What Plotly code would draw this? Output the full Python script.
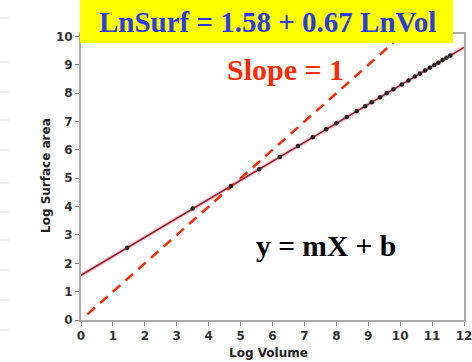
import plotly.graph_objects as go

# Data
log_volume = [1.45, 3.5, 4.7, 5.58, 6.23, 6.8, 7.26, 7.68, 8.0, 8.33, 8.64, 8.9, 9.11,
              9.37, 9.58, 9.79, 10.05, 10.26, 10.46, 10.62, 10.78, 10.93, 11.07, 11.2,
              11.33, 11.45, 11.57]
log_surface = [2.55, 3.93, 4.73, 5.32, 5.75, 6.14, 6.45, 6.73, 6.94, 7.16, 7.37, 7.54, 7.68,
               7.86, 8.0, 8.14, 8.31, 8.45, 8.59, 8.70, 8.80, 8.90, 9.0, 9.08,
               9.17, 9.25, 9.33]
fit_x = [0, 12]
fit_y = [1.58, 9.62]
slope1_x = [0.2, 10.1]
slope1_y = [0.2, 10.1]
x_ticks = list(range(0, 13))
y_ticks = list(range(0, 11))

W, H = 472, 362
L, R, T, B = 81, 8, 34, 42
pw, ph = W - L - R, H - T - B

def px(x):
    return (x - L) / pw

def py(y):
    return (H - B - y) / ph

fig = go.Figure()
fig.add_trace(go.Scatter(x=fit_x, y=fit_y, mode="lines",
                         line=dict(color="rgba(235,170,180,0.6)", width=4), hoverinfo="skip"))
fig.add_trace(go.Scatter(x=fit_x, y=fit_y, mode="lines",
                         line=dict(color="rgb(150,35,55)", width=1.6), hoverinfo="skip"))
fig.add_trace(go.Scatter(x=slope1_x, y=slope1_y, mode="lines",
                         line=dict(color="#ff2a00", width=2.5, dash="10px,7px")))
fig.add_trace(go.Scatter(x=log_volume, y=log_surface, mode="markers",
                         marker=dict(color="#222", size=4.5)))

axis_common = dict(showgrid=False, zeroline=False, showline=True, linecolor="#aaaaaa",
                   linewidth=2, mirror=True, ticks="outside", ticklen=4, tickcolor="#888",
                   automargin=False, ticklabeloverflow="allow",
                   tickfont=dict(family="DejaVu Sans", size=12, color="#333", weight="bold"))
fig.update_xaxes(range=[0, 12], tickvals=x_ticks, **axis_common)
fig.update_yaxes(range=[0, 10.09], tickvals=y_ticks, **axis_common)

fig.add_shape(type="rect", xref="paper", yref="paper", x0=px(80), x1=px(453),
              y0=py(43), y1=py(-2), fillcolor="#ffff00", line=dict(width=0), layer="above")

# faint slide-background ticks at the left edge
for yy in [18, 62, 92, 120, 150, 183, 212, 240, 270, 300, 330]:
    fig.add_shape(type="line", xref="paper", yref="paper", x0=px(0), x1=px(9),
                  y0=py(yy), y1=py(yy), line=dict(color="#dddddd", width=1), layer="below")

serif = "Liberation Serif"

def note(x, y, text, font, angle=0):
    fig.add_annotation(xref="paper", yref="paper", x=px(x), y=py(y), text=text,
                       showarrow=False, xanchor="center", yanchor="middle",
                       textangle=angle, font=font)

note(267, 22, "<b>LnSurf = 1.58 + 0.67 LnVol</b>", dict(family=serif, size=29, color="#2a3ce6"))
note(285, 69, "<b>Slope = 1</b>", dict(family=serif, size=30, color="#ff2a00"))
note(326, 246, "<b>y = mX + b</b>", dict(family=serif, size=29.5, color="#000"))
note(268, 353, "<b>Log Volume</b>", dict(family="DejaVu Sans", size=12, color="#222"))
note(46, 176, "<b>Log Surface area</b>", dict(family="DejaVu Sans", size=12, color="#222"), -90)

fig.update_layout(width=W, height=H, margin=dict(l=L, r=R, t=T, b=B),
                  paper_bgcolor="white", plot_bgcolor="white", showlegend=False)
fig.write_html("out.html", config={"displayModeBar": False},
               post_script="document.body.style.margin='0';document.body.style.overflow='hidden';")
